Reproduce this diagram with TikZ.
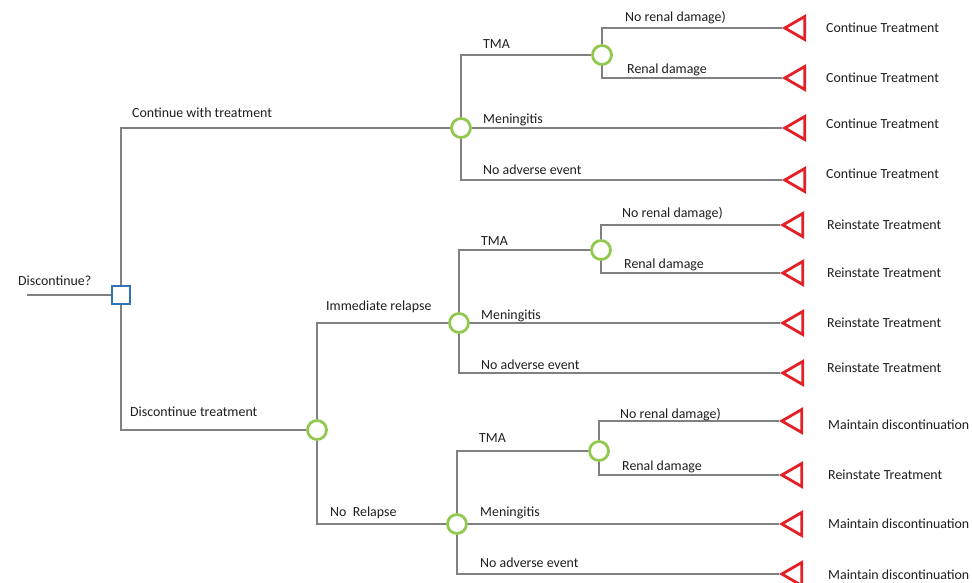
\documentclass[tikz,border=0pt]{standalone}
\usepackage{fontspec}
\setmainfont{Carlito}
\usetikzlibrary{shapes.geometric}
\definecolor{linegray}{RGB}{128,128,128}
\definecolor{chgreen}{RGB}{146,200,80}
\definecolor{decblue}{RGB}{46,117,182}
\definecolor{termred}{RGB}{226,32,38}
\definecolor{textgray}{RGB}{30,30,30}
\begin{document}
\begin{tikzpicture}[x=1pt,y=-1pt,
 br/.style={draw=linegray,line width=2.9pt},
 chance/.style={circle,draw=chgreen,line width=2.8pt,fill=white,minimum size=19pt,inner sep=0pt},
 decision/.style={rectangle,draw=decblue,line width=2.8pt,fill=white,minimum size=18pt,inner sep=0pt},
 term/.style={isosceles triangle,isosceles triangle apex angle=60,shape border rotate=180,draw=termred,line width=2.8pt,fill=white,inner sep=0pt,minimum height=20pt,anchor=apex},
 lbl/.style={anchor=west,inner sep=0pt,font=\fontsize{13.9}{16}\selectfont,text=textgray}]
\useasboundingbox (0,0) rectangle (972,582);
% nodes
\coordinate (start) at (27,295);
\node[decision] (sq) at (121,295) {};
\node[chance] (c1) at (461,128) {};
\node[chance] (c2) at (602,55) {};
\node[chance] (c3) at (317,430) {};
\node[chance] (c4) at (459,323) {};
\node[chance] (c5) at (601,250) {};
\node[chance] (c6) at (457,524) {};
\node[chance] (c7) at (599,451) {};
\node[term] (t1) at (782,28) {};
\node[term] (t2) at (782,78) {};
\node[term] (t3) at (782,128) {};
\node[term] (t4) at (782,180) {};
\node[term] (t5) at (780,225) {};
\node[term] (t6) at (780,273) {};
\node[term] (t7) at (780,323) {};
\node[term] (t8) at (780,373) {};
\node[term] (t9) at (779,421) {};
\node[term] (t10) at (779,475) {};
\node[term] (t11) at (779,524) {};
\node[term] (t12) at (779,574) {};
% connectors
\draw[br] (start) -- (sq);
\draw[br] (sq) |- (c1);
\draw[br] (sq) |- (c3);
\draw[br] (c1) |- (c2);
\draw[br] (c1) -- (t3);
\draw[br] (c1) |- (t4);
\draw[br] (c2) |- (t1);
\draw[br] (c2) |- (t2);
\draw[br] (c3) |- (c4);
\draw[br] (c3) |- (c6);
\draw[br] (c4) |- (c5);
\draw[br] (c4) -- (t7);
\draw[br] (c4) |- (t8);
\draw[br] (c5) |- (t5);
\draw[br] (c5) |- (t6);
\draw[br] (c6) |- (c7);
\draw[br] (c6) -- (t11);
\draw[br] (c6) |- (t12);
\draw[br] (c7) |- (t9);
\draw[br] (c7) |- (t10);
% branch labels
\node[lbl] (l0) at (18,281) {Discontinue?};
\node[lbl] (l1) at (132,113) {Continue with treatment};
\node[lbl] (l2) at (483,44) {TMA};
\node[lbl] (l3) at (625,18) {No renal damage)};
\node[lbl] (l4) at (627,70) {Renal damage};
\node[lbl] (l5) at (483,120) {Meningitis};
\node[lbl] (l6) at (483,170) {No adverse event};
\node[lbl] (l7) at (130,412) {Discontinue treatment};
\node[lbl] (l8) at (326,307) {Immediate relapse};
\node[lbl] (l9) at (481,241) {TMA};
\node[lbl] (l10) at (622,214) {No renal damage)};
\node[lbl] (l11) at (624,265) {Renal damage};
\node[lbl] (l12) at (481,316) {Meningitis};
\node[lbl] (l13) at (481,365) {No adverse event};
\node[lbl] (l14) at (330,513) {No\ \ Relapse};
\node[lbl] (l15) at (479,438) {TMA};
\node[lbl] (l16) at (620,415) {No renal damage)};
\node[lbl] (l17) at (622,467) {Renal damage};
\node[lbl] (l18) at (480,513) {Meningitis};
\node[lbl] (l19) at (480,563) {No adverse event};
% outcome labels
\node[lbl] (o1) at (826,28) {Continue Treatment};
\node[lbl] (o2) at (826,78) {Continue Treatment};
\node[lbl] (o3) at (826,124) {Continue Treatment};
\node[lbl] (o4) at (826,174) {Continue Treatment};
\node[lbl] (o5) at (827,225) {Reinstate Treatment};
\node[lbl] (o6) at (827,273) {Reinstate Treatment};
\node[lbl] (o7) at (827,323) {Reinstate Treatment};
\node[lbl] (o8) at (827,368) {Reinstate Treatment};
\node[lbl] (o9) at (828,425) {Maintain discontinuation};
\node[lbl] (o10) at (828,475) {Reinstate Treatment};
\node[lbl] (o11) at (828,524) {Maintain discontinuation};
\node[lbl] (o12) at (828,575) {Maintain discontinuation};
\end{tikzpicture}
\end{document}
